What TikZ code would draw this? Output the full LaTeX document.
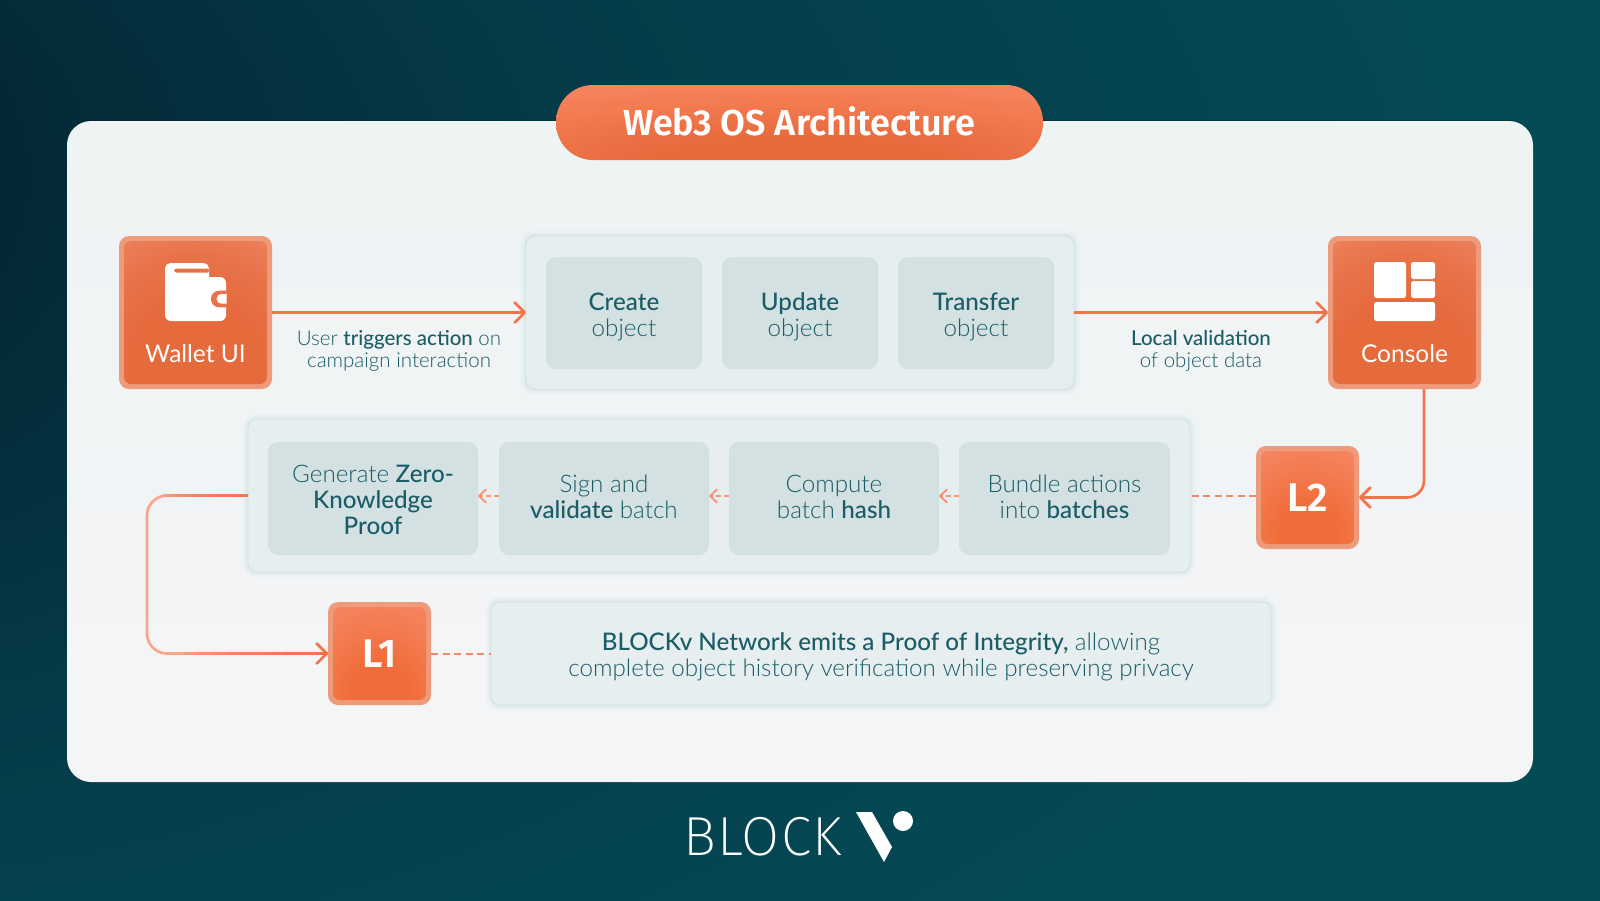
\documentclass[tikz,border=0pt]{standalone}
\usepackage{fontspec}
\setmainfont{Lato Light}
\newfontfamily\medfont{Lato Medium}
\newfontfamily\regfont{Lato}
\newfontfamily\titlefont{Fira Sans SemiBold}
\newfontfamily\logofont{Fira Sans ExtraLight}[LetterSpace=2.5]
\usetikzlibrary{arrows.meta,calc}
\definecolor{txt}{HTML}{1A5C67}
\definecolor{panel}{HTML}{E7EEF0}
\definecolor{inner}{HTML}{D3E1E2}
\definecolor{cardt}{HTML}{EEF3F4}
\definecolor{cardc}{HTML}{F4F5F7}
\definecolor{ora}{HTML}{F3744A}
\definecolor{oral}{HTML}{F9A68A}
\definecolor{bord}{HTML}{EE9B7C}
\definecolor{teald}{HTML}{031F2C}
\definecolor{tealm}{HTML}{053A47}
\definecolor{tealb}{HTML}{044B56}
\definecolor{glowa}{HTML}{E56A3C}
\definecolor{glowb}{HTML}{E8734A}
\definecolor{glowc}{HTML}{EE9370}
\definecolor{glowd}{HTML}{F16C3A}
\definecolor{glowe}{HTML}{F37B50}
\definecolor{glowf}{HTML}{F59070}
\pgfdeclareradialshading{bgglow}{\pgfpoint{-50bp}{18bp}}{color(0bp)=(teald);color(11bp)=(teald);color(30bp)=(tealm);color(52bp)=(tealb);color(120bp)=(tealb)}
\pgfdeclareradialshading{wglow}{\pgfpoint{0bp}{-25bp}}{color(0bp)=(glowa);color(22bp)=(glowa);color(36bp)=(glowb);color(60bp)=(glowc);color(100bp)=(glowc)}
\pgfdeclareradialshading{lglow}{\pgfpoint{0bp}{-25bp}}{color(0bp)=(glowd);color(16bp)=(glowd);color(32bp)=(glowe);color(58bp)=(glowf);color(100bp)=(glowf)}
\pgfdeclareradialshading{pglow}{\pgfpoint{0bp}{-30bp}}{color(0bp)=(glowa);color(14bp)=(glowa);color(34bp)=(glowe);color(60bp)=(glowf);color(100bp)=(glowf)}
\tikzset{
  x=1pt,y=-1pt,
  sq/.style={inner sep=0pt,outer sep=0pt,rectangle},
  card/.style={sq,top color=cardt,bottom color=cardc,rounded corners=24pt,minimum width=1466pt,minimum height=661pt},
  panelbox/.style={sq,fill=panel,draw=panel!90!teal,line width=.8pt,rounded corners=9pt,
    preaction={draw=teal,draw opacity=.02,line width=11pt},
    preaction={draw=teal,draw opacity=.025,line width=7pt},
    preaction={draw=teal,draw opacity=.03,line width=3.5pt}},
  innerbox/.style={sq,fill=inner,rounded corners=10pt},
  orout/.style={sq,fill=bord,rounded corners=10pt,minimum width=#1,minimum height=#1},
  orinw/.style={sq,shading=wglow,rounded corners=7pt,minimum width=#1,minimum height=#1},
  orinl/.style={sq,shading=lglow,rounded corners=7pt,minimum width=#1,minimum height=#1},
  lab/.style={font=\fontsize{20.5}{22}\selectfont,text=txt,align=center,inner sep=0pt},
  boxt/.style={font=\fontsize{24.2}{26}\selectfont,text=txt,align=center,inner sep=0pt},
  otext/.style={font=\fontsize{24.5}{26}\selectfont\regfont,text=white,inner sep=0pt},
  ltext/.style={font=\fontsize{40}{42}\selectfont\titlefont,text=white,inner sep=0pt},
  conn/.style={draw=ora,line width=2.7pt,-{Straight Barb[length=10pt,width=20pt,line width=2.7pt,round]}},
  fadeseg/.style={draw=oral,line width=2.7pt},
  fadedark/.style={draw=ora,line width=2.7pt},
  dashc/.style={draw=ora!85!white,line width=2pt,dash pattern=on 7pt off 4.5pt},
  dasharr/.style={draw=oral!70!ora,line width=2pt,dash pattern=on 5pt off 3pt,-{Straight Barb[length=7pt,width=13pt,line width=2pt,round]}},
  icon/.style={fill=white},
}
\newcommand{\fadeline}[2]{%
  \foreach \f in {.1,.18,.26,.34,.42,.5,.58,.66}{\draw[fadeseg,opacity=.16] (#1) -- ($(#1)!\f!(#2)$);}}
\newcommand{\darkline}[3]{%
  \foreach \f in {.2,.3,.4,.5,.6,.7,.8,.9,1}{\draw[fadedark,opacity=.22] (#1) -- ($(#1)!\f*#3!(#2)$);}}
\newcommand{\mb}[1]{{\medfont #1}}
\begin{document}
\begin{tikzpicture}
\useasboundingbox (0,0) rectangle (1600,900);
\shade[shading=bgglow] (0,0) rectangle (1600,900);
% card
\node[sq,fill=black!70!teal,opacity=.4,rounded corners=24pt,minimum width=1466pt,minimum height=662pt] at (800,451) {};
\node[card] (card) at (800,451.5) {};
% pill
\node[sq,shading=pglow,rounded corners=37pt,minimum width=487pt,minimum height=75pt] (title) at (799.5,122.5) {};
\node[font=\fontsize{36}{40}\selectfont\titlefont,text=white,inner sep=0pt] (titlet) at (799,121) {Web3 OS Architecture};
% top row
\node[orout=153pt] (wallet) at (195.5,312.5) {};
\node[orinw=143pt] (walletin) at (195.5,312.5) {};
\node[orout=153pt] (console) at (1404.5,312.5) {};
\node[orinw=143pt] (consolein) at (1404.5,312.5) {};
\node[otext] (wallett) at (195.5,353.5) {Wallet UI};
\node[otext] (consolet) at (1404.5,353.5) {Console};
\node[panelbox,minimum width=548pt,minimum height=153pt] (ptop) at (800,312.5) {};
\node[innerbox,minimum width=156pt,minimum height=112pt] (create) at (624,313) {};
\node[innerbox,minimum width=156pt,minimum height=112pt] (update) at (800,313) {};
\node[innerbox,minimum width=156pt,minimum height=112pt] (transfer) at (976,313) {};
\node[boxt] (createt) at (624,316.5) {\mb{Create}\\object};
\node[boxt] (updatet) at (800,316.5) {\mb{Update}\\object};
\node[boxt] (transfert) at (976,316.5) {\mb{Transfer}\\object};
\node[lab] (userl) at (399,351) {User \mb{triggers action} on\\campaign interaction};
\node[lab] (locall) at (1201,351) {\mb{Local validation}\\of object data};
% second row
\node[panelbox,minimum width=942pt,minimum height=153pt] (pmid) at (719,495.5) {};
\node[innerbox,minimum width=210pt,minimum height=113pt] (zk) at (373,498.5) {};
\node[innerbox,minimum width=210pt,minimum height=113pt] (sign) at (604,498.5) {};
\node[innerbox,minimum width=210pt,minimum height=113pt] (hash) at (834,498.5) {};
\node[innerbox,minimum width=211pt,minimum height=113pt] (bundle) at (1064.5,498.5) {};
\node[boxt] (zkt) at (373,500) {Generate \mb{Zero-}\\\mb{Knowledge}\\\mb{Proof}};
\node[boxt] (signt) at (604,497) {Sign and\\\mb{validate} batch};
\node[boxt] (hasht) at (834,497) {Compute\\batch \mb{hash}};
\node[boxt] (bundlet) at (1064.5,497) {Bundle actions\\into \mb{batches}};
% L2, L1
\node[orout=103pt] (ltwo) at (1307.5,497.5) {};
\node[orinl=93pt] (ltwoin) at (1307.5,497.5) {};
\node[ltext] (ltwot) at (1307.5,498) {L2};
\node[orout=103pt] (lone) at (379.5,653.5) {};
\node[orinl=93pt] (lonein) at (379.5,653.5) {};
\node[ltext] (lonet) at (379.5,654) {L1};
\node[panelbox,minimum width=780pt,minimum height=103pt] (pbot) at (881,653.5) {};
\node[boxt] (pbott) at (881,656.5) {\mb{BLOCKv Network emits a Proof of Integrity,} allowing\\complete object history verification while preserving privacy};
% connectors
\fadeline{wallet.east}{ptop.west}
\draw[conn] (wallet.east) -- (ptop.west);
\fadeline{ptop.east}{console.west}
\draw[conn] (ptop.east) -- (console.west);
\coordinate (ca) at ($(console.south)+(19.5,0)$);
\coordinate (cb) at (ca |- ltwo.east);
\draw[conn,rounded corners=17pt] (ca) -- (cb) -- (ltwo.east);
\draw[dashc] ([yshift=1.5pt]ltwo.west) -- ([yshift=1.5pt]pmid.east |- ltwo.west);
\draw[dasharr] ([yshift=2.5pt]bundle.west) -- ([yshift=2.5pt]hash.east);
\draw[dasharr] ([yshift=2.5pt]hash.west) -- ([yshift=2.5pt]sign.east);
\draw[dasharr] ([yshift=2.5pt]sign.west) -- ([yshift=2.5pt]zk.east);
% big elbow
\coordinate (ela) at (147,495.5);
\coordinate (elb) at (147,653.5);
\draw[draw=oral,line width=2.7pt,rounded corners=20pt] (pmid.west) -- (ela) -- (elb) -- (lone.west);
\darkline{pmid.west}{ela}{.85}
\darkline{lone.west}{elb}{.8}
\draw[conn] ($(elb)!.75!(lone.west)$) -- (lone.west);
\draw[dashc] (lone.east) -- (pbot.west);
% wallet icon
\fill[icon,rounded corners=6pt] (165,277) rectangle (226,321);
\fill[icon,rounded corners=5.5pt] (165,263) rectangle (209,290);
\fill[glowb,rounded corners=1.8pt] (174,268.5) rectangle (209.5,272.5);
\fill[glowb,rounded corners=8pt] (226,290.7) -- (211,290.7) -- (211,307.3) -- (226,307.3);
\fill[icon,rounded corners=4.5pt] (226.5,294) -- (216.7,294) -- (216.7,303.6) -- (226.5,303.6);
% console icon
\fill[icon,rounded corners=2.5pt] (1374,262) rectangle (1406,298);
\fill[icon,rounded corners=2.5pt] (1411,262) rectangle (1435,279);
\fill[icon,rounded corners=2.5pt] (1411,281) rectangle (1435,298);
\fill[icon,rounded corners=2.5pt] (1374,302) rectangle (1435,321);
% logo
\node[font=\fontsize{55}{58}\selectfont\logofont,text=white,inner sep=0pt,anchor=west] (logo) at (683,837) {BLOCK};
\fill[white] (856,812) -- (872,812) -- (892,847) -- (884,862) -- cycle;
\fill[white] (903,821) circle[radius=10];
\end{tikzpicture}
\end{document}
